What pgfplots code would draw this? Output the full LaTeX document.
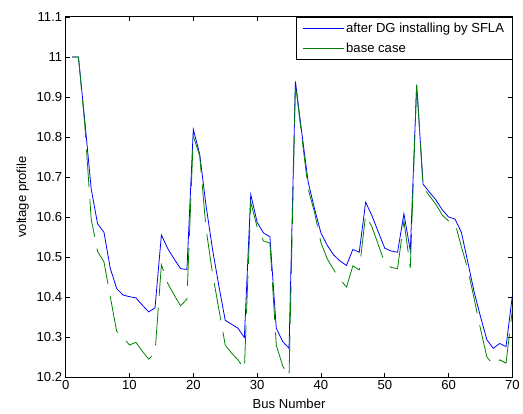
\documentclass[border=0pt]{standalone}
\usepackage{fontspec}
\setmainfont{Liberation Sans}
\usepackage{pgfplots}
\pgfplotsset{compat=1.18}
\definecolor{mblue}{RGB}{0,0,255}
\definecolor{mgreen}{RGB}{0,128,0}

\pgfplotstableread{
x y
1 11.0
2 11.0
3 10.84
4 10.67
5 10.583
6 10.562
7 10.471
8 10.421
9 10.405
10 10.401
11 10.398
12 10.38
13 10.363
14 10.373
15 10.555
16 10.521
17 10.495
18 10.471
19 10.469
20 10.819
21 10.757
22 10.628
23 10.52
24 10.428
25 10.342
26 10.332
27 10.322
28 10.299
29 10.656
30 10.587
31 10.56
32 10.551
33 10.322
34 10.289
35 10.272
36 10.939
37 10.81
38 10.687
39 10.62
40 10.56
41 10.529
42 10.505
43 10.49
44 10.479
45 10.519
46 10.512
47 10.637
48 10.603
49 10.562
50 10.522
51 10.515
52 10.512
53 10.608
54 10.516
55 10.931
56 10.682
57 10.662
58 10.643
59 10.618
60 10.6
61 10.595
62 10.562
63 10.488
64 10.413
65 10.351
66 10.293
67 10.272
68 10.284
69 10.276
70 10.405
}\sfla

\pgfplotstableread{
x y
1 11.0
2 11.0
3 10.83
4 10.595
5 10.514
6 10.488
7 10.40
8 10.314
9 10.30
10 10.28
11 10.287
12 10.265
13 10.245
14 10.26
15 10.481
16 10.434
17 10.405
18 10.378
19 10.395
20 10.802
21 10.753
22 10.57
23 10.46
24 10.37
25 10.28
26 10.26
27 10.243
28 10.22
29 10.637
30 10.575
31 10.54
32 10.535
33 10.28
34 10.228
35 10.202
36 10.935
37 10.80
38 10.67
39 10.611
40 10.536
41 10.495
42 10.468
43 10.444
44 10.425
45 10.478
46 10.468
47 10.605
48 10.575
49 10.53
50 10.485
51 10.474
52 10.471
53 10.59
54 10.473
55 10.935
56 10.674
57 10.653
58 10.632
59 10.605
60 10.59
61 10.585
62 10.526
63 10.47
64 10.396
65 10.32
66 10.25
67 10.231
68 10.243
69 10.235
70 10.37
}\basecase

\begin{document}
\begin{tikzpicture}
\begin{axis}[
  scale only axis,
  width=449bp,
  height=362bp,
  xmin=0, xmax=70,
  ymin=10.2, ymax=11.1,
  xtick={0,10,...,70},
  ytick={10.2,10.3,...,11.1},
  tick align=inside,
  major tick length=4bp,
  axis line style={line width=0.9bp},
  tick style={line width=0.6bp, black},
  /pgf/number format/assume math mode=true,
  tick label style={font=\fontsize{13.2}{15}\selectfont},
  label style={font=\fontsize{13.2}{15}\selectfont},
  xlabel={Bus Number},
  ylabel={voltage profile},
  xlabel style={yshift=-2bp},
  ylabel style={yshift=1bp},
  legend style={at={(1,1)}, anchor=north east, draw=black, line width=0.9bp,
    fill=white, font=\fontsize{13.2}{15}\selectfont, inner xsep=6bp, inner ysep=4bp,
    row sep=4.5bp, cells={anchor=west}},
  legend cell align=left,
  legend image code/.code={\draw[#1, solid, line width=0.8bp] (0bp,0bp) -- (41bp,0bp);},
]
\addplot[color=mblue, line width=0.8bp] table[x=x, y=y] {\sfla};
\addlegendentry{after DG installing by SFLA}
\addplot[color=mgreen, line width=0.8bp, dash pattern=on 38bp off 12bp] table[x=x, y=y] {\basecase};
\addlegendentry{base case}
\end{axis}
\path ([shift={(-66bp,-37bp)}]current axis.south west) rectangle ([shift={(8bp,17bp)}]current axis.north east);
\end{tikzpicture}
\end{document}
